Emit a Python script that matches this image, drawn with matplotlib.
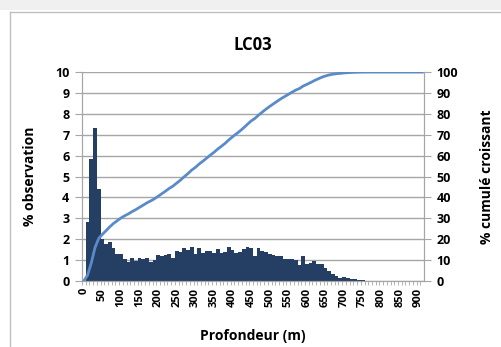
import matplotlib.pyplot as plt
from matplotlib.lines import Line2D
from matplotlib.patches import Rectangle
import numpy as np

plt.rcParams['font.family'] = ['Open Sans', 'DejaVu Sans']
plt.rcParams['font.weight'] = 'bold'

# depth classes (m), 10 m bins
profondeur = list(range(0, 920, 10))

# % observation per class
observation = [
    0.0, 2.8, 5.85, 7.3, 4.4, 2.0, 1.75, 1.85, 1.6, 1.3,
    1.3, 1.05, 0.9, 1.1, 0.95, 1.1, 1.05, 1.1, 0.9, 1.0,
    1.25, 1.2, 1.25, 1.3, 1.1, 1.45, 1.4, 1.6, 1.5, 1.65,
    1.3, 1.6, 1.35, 1.45, 1.45, 1.35, 1.55, 1.35, 1.4, 1.65,
    1.5, 1.35, 1.4, 1.55, 1.65, 1.6, 1.2, 1.6, 1.45, 1.4,
    1.3, 1.25, 1.2, 1.2, 1.05, 1.05, 1.05, 1.0, 0.75, 1.2,
    0.8, 0.85, 0.95, 0.8, 0.8, 0.6, 0.5, 0.35, 0.25, 0.15,
    0.2, 0.15, 0.1, 0.08, 0.05, 0.03, 0.02, 0.02, 0.0, 0.0,
    0.0, 0.0, 0.0, 0.0, 0.0, 0.0, 0.0, 0.0, 0.0, 0.0,
    0.0, 0.0,
]

obs = np.array(observation)
cumul = np.cumsum(obs) / obs.sum() * 100
pos = np.arange(len(profondeur))

bar_col = '#243f63'
line_col = '#5a8bc9'
grid_col = '#a6a6a6'

fig = plt.figure(figsize=(5.02, 3.47), dpi=100)

# grey strip at top and chart frame
fig.patches.append(Rectangle((0, 1 - 10/347), 1, 10/347, transform=fig.transFigure,
                             facecolor='#f0f0f0', edgecolor='none', zorder=0))
fig.lines.append(Line2D([10/502, 10/502], [0, 1 - 12/347], transform=fig.transFigure,
                        color='#bfbfbf', lw=1))
fig.lines.append(Line2D([10/502, 1], [1 - 12/347, 1 - 12/347], transform=fig.transFigure,
                        color='#bfbfbf', lw=1))

ax = fig.add_axes([82/502, 1 - 281/347, 342/502, 209/347])
ax.bar(pos, obs, width=1.0, color=bar_col, zorder=2)
ax.set_xlim(-0.5, len(pos) - 0.5)
ax.set_ylim(0, 10)
ax.set_yticks(range(0, 11))
ax.yaxis.grid(True, color=grid_col, lw=1)
ax.set_axisbelow(True)
ax.set_xticks(pos[::5])
ax.set_xticklabels([str(p) for p in profondeur[::5]], rotation=90, fontsize=8, fontweight='bold')
ax.set_xticks(pos - 0.5, minor=True)
ax.tick_params(axis='x', which='major', length=0, pad=5)
ax.tick_params(axis='x', which='minor', length=3, color=grid_col)
ax.tick_params(axis='y', length=5, color=grid_col, labelsize=9, pad=4)
ax.spines['top'].set_visible(False)
for s in ['left', 'right', 'bottom']:
    ax.spines[s].set_color(grid_col)
ax.set_ylabel('% observation', fontsize=10, fontweight='bold', labelpad=13)
ax.set_xlabel('Profondeur (m)', fontsize=10, fontweight='bold', labelpad=16)
ax.set_title('LC03', fontsize=12, fontweight='bold', pad=16)

ax2 = ax.twinx()
ax2.plot(pos, cumul, color=line_col, lw=2, zorder=3)
ax2.set_ylim(0, 100)
ax2.set_yticks(range(0, 101, 10))
ax2.tick_params(axis='y', length=5, color=grid_col, labelsize=9, pad=4)
ax2.spines['top'].set_visible(False)
for s in ['left', 'right', 'bottom']:
    ax2.spines[s].set_color(grid_col)
ax2.set_ylabel('% cumulé croissant', fontsize=10, fontweight='bold', labelpad=16)

fig.savefig('out.png', dpi=100)
